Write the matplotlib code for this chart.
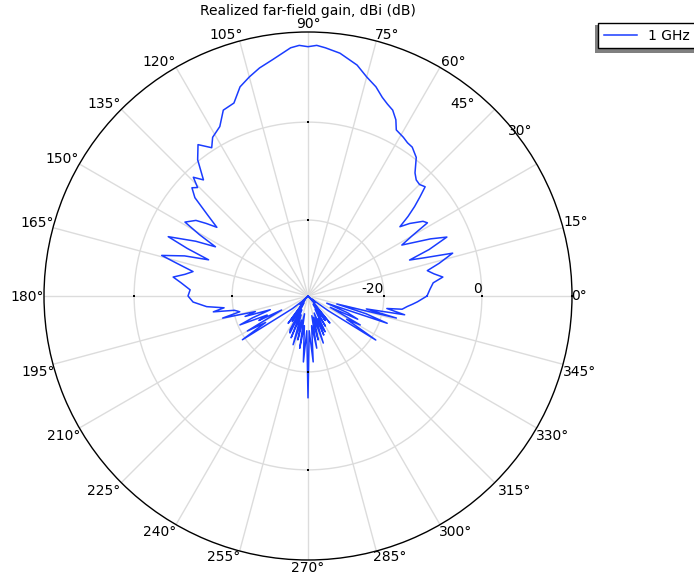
import matplotlib.pyplot as plt
import numpy as np
from matplotlib.patches import Rectangle

# 方向图数据 (角度: 度, 增益: dBi)
ang_top = [0, 3, 6, 8, 10, 12, 14, 16.5, 18, 19.5, 21, 23, 25, 28.5, 30, 31.5, 33, 35.5, 37, 38.5,
           40, 41.5, 43, 45, 47, 49, 52, 55, 57, 59, 62, 63.5, 65.5, 67.5, 69.5, 72, 75, 78, 82.5, 86,
           88, 90, 92, 94, 98.5, 102, 105, 108, 111, 114.5, 117.5, 121, 123, 126, 129, 132, 134, 135.5,
           137, 139, 141, 143, 144.5, 146, 149, 150.5, 152, 154, 157, 158.5, 160, 162, 164.5, 166, 168,
           170, 172, 174, 177, 180]
gain_top = [-11.2, -10.6, -9.8, -7.7, -9.4, -10.6, -7.9, -4.7, -10.0, -13.5, -9.0, -4.7, -7.9, -13.7,
            -11.0, -6.9, -7.5, -10.0, -12.0, -9.4, -7.1, -5.0, -2.8, -3.3, -3.1, -2.2, 0.4, 1.6, 1.8,
            2.3, 2.9, 4.7, 6.2, 6.9, 7.8, 9.4, 10.8, 12.7, 14.5, 15.3, 15.7, 15.4, 15.7, 15.3, 13.3,
            12.1, 10.8, 9.4, 6.7, 6.2, 3.5, 2.3, 0.6, 2.7, 0.3, -3.6, -1.8, -3.9, -3.1, -4.9, -9.0,
            -12.2, -10.0, -7.9, -6.2, -10.0, -14.1, -10.0, -4.5, -9.0, -13.9, -9.0, -4.5, -7.9, -11.5,
            -10.0, -7.7, -9.4, -11.4, -11.0]

ang_bot = [183, 186, 188, 189.5, 191, 193, 194.5, 196.5, 198, 200, 201.5, 203, 205, 206.5, 208, 210,
           212, 213.7, 216, 219, 222, 225, 228, 231, 234, 236, 238, 240, 242, 244, 246, 248, 250, 253,
           255, 257, 259, 261, 263, 266, 268, 270, 272, 274.5, 277, 279.5, 281, 283, 285, 288, 290,
           292, 293.5, 295.5, 298, 300, 302, 305, 307, 309, 312, 315, 318, 321, 324, 327, 329, 331,
           333, 335, 337, 339, 341, 343, 344.5, 346, 347.5, 349, 351, 352, 354, 355.5, 357, 360]
gain_bot = [-12.0, -14.7, -18.2, -15.9, -20.2, -21.2, -17.5, -24.3, -22.0, -27.3, -23.3, -20.4, -26.3,
            -24.3, -29.4, -21.2, -25.3, -19.4, -28.4, -31.4, -33.9, -35.5, -33.1, -34.5, -28.6, -33.5,
            -29.4, -33.9, -27.7, -27.1, -32.4, -26.3, -31.4, -25.1, -30.4, -26.3, -31.8, -24.7, -29.4,
            -22.0, -28.4, -14.7, -28.4, -22.0, -29.4, -24.7, -31.4, -26.3, -31.0, -25.4, -31.8, -26.9,
            -30.4, -27.4, -32.4, -28.4, -33.5, -29.4, -33.5, -28.4, -34.5, -35.5, -33.5, -34.5, -30.4,
            -19.0, -26.3, -23.3, -30.4, -24.3, -26.7, -31.4, -18.4, -23.1, -29.4, -16.9, -23.3, -15.4,
            -19.2, -16.1, -15.1, -14.1, -13.1, -11.2]

r_ticks = [-20, 0]
r_lim = (-35.5, 18.4)
theta_ticks = list(range(0, 360, 15))
theta_labels = [f'{t}°' for t in theta_ticks]

# 角度标签的位置 (像素, 左上为原点)
theta_label_px = [(579, 296), (576, 222), (520, 131), (463, 104), (453, 62), (387, 35), (308, 24),
                  (226, 35), (159, 62), (104, 104), (62, 159), (37, 223), (27, 297), (38, 372),
                  (64, 436), (104, 491), (160, 532), (224, 557), (308, 568), (390, 557), (456, 532),
                  (515, 491), (553, 436), (580, 372)]

W, H = 694, 576
ang = np.deg2rad(ang_top + ang_bot)
gain = np.array(gain_top + gain_bot)

fig = plt.figure(figsize=(W / 100, H / 100), dpi=100)
ax = fig.add_axes([44 / W, 16 / H, 528 / W, 528 / H], projection='polar')

ax.plot(ang, gain, color='#1a3cff', lw=1.1, label='1 GHz')

ax.set_rlim(*r_lim)
ax.set_rticks(r_ticks)
ax.set_yticklabels([])
ax.set_thetagrids(theta_ticks, labels=[''] * len(theta_ticks))
ax.grid(color='#dcdcdc', lw=1.0)
ax.spines['polar'].set_color('black')
ax.spines['polar'].set_linewidth(1.0)

for lab, (px, py) in zip(theta_labels, theta_label_px):
    fig.text(px / W, 1 - py / H, lab, ha='center', va='center', fontsize=10)

for r in r_ticks:
    ax.text(0, r, str(r), ha='right', va='bottom', fontsize=10)
    # 刻度小点
    ax.plot(np.deg2rad([0, 90, 180, 270]), [r] * 4, 's', color='black', ms=1.5, mew=0)

fig.text(308 / W, 1 - 11 / H, 'Realized far-field gain, dBi (dB)', ha='center', va='center', fontsize=10)

leg = fig.legend(loc='upper left', bbox_to_anchor=(598 / W, 1 - 23 / H), fancybox=False,
                 edgecolor='black', framealpha=1, fontsize=10, handlelength=2.4, borderaxespad=0)
leg.get_frame().set_linewidth(1.0)
fig.patches.append(Rectangle((595 / W, 1 - 53 / H), 110 / W, 28 / H, transform=fig.transFigure,
                             facecolor='#808080', edgecolor='none', zorder=0))

fig.savefig('out.png', dpi=100)
